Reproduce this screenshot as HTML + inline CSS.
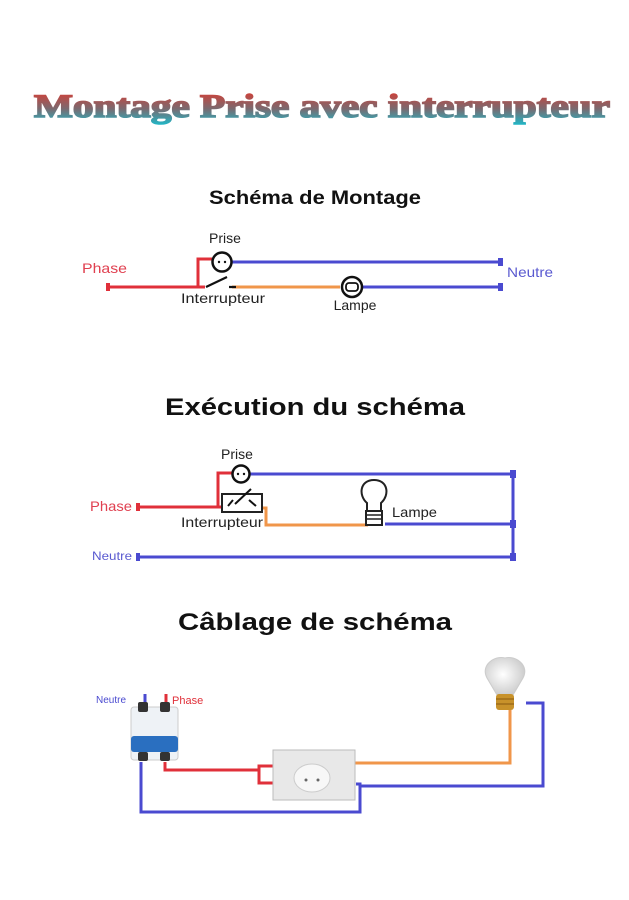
<!DOCTYPE html>
<html><head><meta charset="utf-8"><style>
html,body{margin:0;padding:0;background:#fff;width:629px;height:900px;overflow:hidden}
svg{display:block}
text{font-family:"Liberation Sans",sans-serif}
</style></head><body>
<svg width="629" height="900" viewBox="0 0 629 900" xmlns="http://www.w3.org/2000/svg">
<defs>
<linearGradient id="tg" x1="0" y1="0" x2="0" y2="1">
<stop offset="0" stop-color="#e0392e"/><stop offset="0.55" stop-color="#7a6a70"/><stop offset="1" stop-color="#1fb8c8"/>
</linearGradient>
<radialGradient id="bulb" cx="0.45" cy="0.45" r="0.6"><stop offset="0" stop-color="#fff"/><stop offset="1" stop-color="#c9c9c9"/></radialGradient>
</defs>
<text x="322" y="117" text-anchor="middle" font-weight="bold" font-size="33" fill="url(#tg)" stroke="url(#tg)" stroke-width="1.6" textLength="576" lengthAdjust="spacingAndGlyphs" style="font-family:'Liberation Serif',serif;font-weight:bold">Montage Prise avec interrupteur</text>

<!-- Section 1 -->
<text x="315" y="204" text-anchor="middle" font-weight="bold" font-size="19" fill="#111" textLength="212" lengthAdjust="spacingAndGlyphs">Schéma de Montage</text>
<text x="225" y="243" text-anchor="middle" font-size="14" fill="#222">Prise</text>
<text x="82" y="273" font-size="14" fill="#e04050" textLength="45" lengthAdjust="spacingAndGlyphs">Phase</text>
<text x="507" y="277" font-size="14" fill="#5a5ad0" textLength="46" lengthAdjust="spacingAndGlyphs">Neutre</text>
<text x="223" y="303" text-anchor="middle" font-size="14" fill="#222" textLength="84" lengthAdjust="spacingAndGlyphs">Interrupteur</text>
<text x="355" y="310" text-anchor="middle" font-size="14" fill="#222">Lampe</text>
<g stroke-width="3" fill="none">
<path d="M108 287H205M198 287V259H212" stroke="#e0303a"/>
<path d="M232 262H500" stroke="#4a4ad0"/>
<path d="M232 287H340" stroke="#f0964a"/>
<path d="M362 287H500" stroke="#4a4ad0"/>
</g>
<rect x="106" y="283" width="4" height="8" fill="#e0303a"/>
<rect x="498" y="258" width="5" height="8" fill="#4a4ad0"/>
<rect x="498" y="283" width="5" height="8" fill="#4a4ad0"/>
<circle cx="222" cy="262" r="9.5" fill="#fff" stroke="#111" stroke-width="2.5"/>
<circle cx="219" cy="262" r="1.2" fill="#111"/><circle cx="225" cy="262" r="1.2" fill="#111"/>
<path d="M206 287L227 277M229 287H236" stroke="#111" stroke-width="2.2"/>
<circle cx="352" cy="287" r="10" fill="#fff" stroke="#111" stroke-width="2.5"/>
<rect x="346" y="283" width="12" height="8" rx="3" fill="none" stroke="#111" stroke-width="1.8"/>

<!-- Section 2 -->
<text x="315" y="415" text-anchor="middle" font-weight="bold" font-size="24" fill="#111" textLength="300" lengthAdjust="spacingAndGlyphs">Exécution du schéma</text>
<text x="237" y="459" text-anchor="middle" font-size="14" fill="#222">Prise</text>
<text x="90" y="511" font-size="14" fill="#e04050" textLength="42" lengthAdjust="spacingAndGlyphs">Phase</text>
<text x="392" y="517" font-size="14" fill="#222" textLength="45" lengthAdjust="spacingAndGlyphs">Lampe</text>
<text x="222" y="527" text-anchor="middle" font-size="14" fill="#222" textLength="82" lengthAdjust="spacingAndGlyphs">Interrupteur</text>
<text x="92" y="560" font-size="12" fill="#5a5ad0" textLength="40" lengthAdjust="spacingAndGlyphs">Neutre</text>
<g stroke-width="3" fill="none">
<path d="M138 507H230M218 507V473H233" stroke="#e0303a"/>
<path d="M249 474H513V557M385 524H513M138 557H513" stroke="#4a4ad0"/>
<path d="M255 508H266V525H368" stroke="#f0964a"/>
</g>
<rect x="136" y="503" width="4" height="8" fill="#e0303a"/>
<rect x="136" y="553" width="4" height="8" fill="#4a4ad0"/>
<rect x="510" y="470" width="6" height="8" fill="#4a4ad0"/>
<rect x="510" y="520" width="6" height="8" fill="#4a4ad0"/>
<rect x="510" y="553" width="6" height="8" fill="#4a4ad0"/>
<circle cx="241" cy="474" r="8.5" fill="#fff" stroke="#111" stroke-width="2.5"/>
<circle cx="238" cy="474" r="1.2" fill="#111"/><circle cx="244" cy="474" r="1.2" fill="#111"/>
<rect x="222" y="494" width="40" height="18" fill="#fff" stroke="#222" stroke-width="2"/>
<path d="M228 506L233 500M235 504L251 489M249 500L256 506" stroke="#111" stroke-width="2" fill="none"/>
<path d="M367 503C358 495 360 480 374 480C388 480 390 495 381 503V511H367Z" fill="#fff" stroke="#222" stroke-width="2"/>
<rect x="366" y="511" width="16" height="14" fill="#fff" stroke="#222" stroke-width="2"/>
<path d="M366 515H382M366 519H382" stroke="#222" stroke-width="1.5"/>

<!-- Section 3 -->
<text x="315" y="630" text-anchor="middle" font-weight="bold" font-size="24" fill="#111" textLength="274" lengthAdjust="spacingAndGlyphs">Câblage de schéma</text>
<text x="96" y="703" font-size="10" fill="#4a4ad0">Neutre</text>
<text x="172" y="704" font-size="11" fill="#e0303a">Phase</text>
<g stroke-width="3" fill="none">
<path d="M145 694V704" stroke="#4a4ad0"/>
<path d="M166 694V704" stroke="#e0303a"/>
<path d="M165 762V770H258M275 766H259V783H275" stroke="#e0303a"/>
<path d="M355 763H510V710" stroke="#f0964a"/>
<path d="M141 762V812H360V784H356M360 786H543V703H526" stroke="#4a4ad0"/>
</g>
<rect x="131" y="707" width="47" height="53" rx="3" fill="#eef2f6" stroke="#ccc"/>
<rect x="138" y="702" width="10" height="10" rx="2" fill="#333"/>
<rect x="160" y="702" width="10" height="10" rx="2" fill="#333"/>
<rect x="131" y="736" width="47" height="16" rx="3" fill="#2a6fc0"/>
<rect x="138" y="752" width="10" height="9" rx="2" fill="#333"/>
<rect x="160" y="752" width="10" height="9" rx="2" fill="#333"/>
<rect x="273" y="750" width="82" height="50" fill="#e8e8e8" stroke="#bbb"/>
<ellipse cx="312" cy="778" rx="18" ry="14" fill="#f7f7f7" stroke="#ccc"/>
<circle cx="306" cy="780" r="1.5" fill="#666"/><circle cx="318" cy="780" r="1.5" fill="#666"/>
<path d="M487 678C480 665 495 655 505 658C515 655 530 665 523 678L513 695H497Z" fill="url(#bulb)" stroke="#ccc"/>
<rect x="496" y="694" width="18" height="16" rx="3" fill="#c8922a"/>
<path d="M496 699H514M496 704H514" stroke="#8a5a10" stroke-width="1"/>
</svg>
</body></html>
